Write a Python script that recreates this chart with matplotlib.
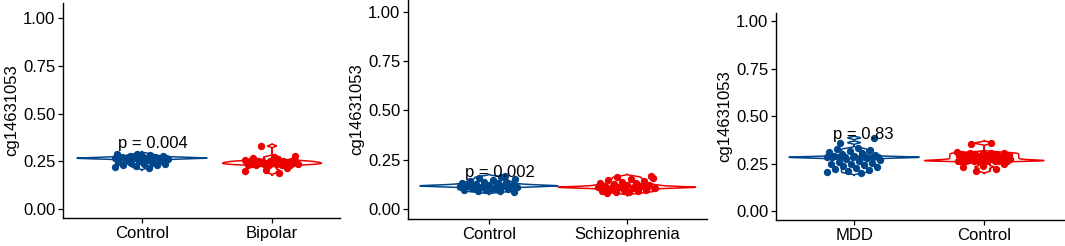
import numpy as np
import matplotlib.pyplot as plt
from matplotlib.ticker import FormatStrFormatter

plt.rcParams['font.family'] = ['Liberation Sans', 'DejaVu Sans']

BLUE = '#00468B'
RED = '#ED0000'

# --- valores (cg14631053) ---
bip_control = [0.266, 0.266, 0.266, 0.266, 0.266, 0.266, 0.266, 0.266, 0.266, 0.266,
               0.266, 0.266, 0.29, 0.286, 0.282, 0.279, 0.276, 0.275, 0.273, 0.271,
               0.269, 0.262, 0.259, 0.256, 0.253, 0.25, 0.247, 0.244, 0.241, 0.238,
               0.235, 0.232, 0.228, 0.224, 0.22, 0.215]
bip_bipolar = [0.256, 0.255, 0.254, 0.252, 0.251, 0.25, 0.249, 0.248, 0.247, 0.246,
               0.245, 0.244, 0.243, 0.242, 0.241, 0.24, 0.24, 0.239, 0.238, 0.237,
               0.236, 0.235, 0.234, 0.233, 0.232, 0.231, 0.23, 0.228, 0.33, 0.275,
               0.27, 0.265, 0.215, 0.205, 0.2, 0.19]

scz_control = [0.117, 0.117, 0.117, 0.117, 0.117, 0.117, 0.16, 0.155, 0.15, 0.146,
               0.142, 0.139, 0.136, 0.133, 0.13, 0.127, 0.124, 0.121, 0.119, 0.115,
               0.113, 0.11, 0.107, 0.104, 0.101, 0.098, 0.095, 0.092, 0.089, 0.086,
               0.1, 0.125, 0.165]
scz_scz = [0.11, 0.11, 0.11, 0.11, 0.11, 0.11, 0.11, 0.16, 0.155, 0.15,
           0.146, 0.142, 0.138, 0.134, 0.13, 0.127, 0.124, 0.121, 0.118, 0.115,
           0.113, 0.107, 0.104, 0.101, 0.098, 0.095, 0.092, 0.09, 0.087, 0.165,
           0.085, 0.08, 0.12]

mdd_mdd = [0.283, 0.283, 0.283, 0.283, 0.283, 0.283, 0.283, 0.283, 0.283, 0.33,
           0.325, 0.32, 0.315, 0.31, 0.305, 0.3, 0.296, 0.292, 0.288, 0.279,
           0.275, 0.27, 0.265, 0.26, 0.255, 0.25, 0.245, 0.24, 0.235, 0.23,
           0.225, 0.22, 0.215, 0.21, 0.205, 0.2, 0.36, 0.385]
mdd_control = [0.31, 0.308, 0.306, 0.305, 0.303, 0.301, 0.3, 0.298, 0.296, 0.295,
               0.293, 0.291, 0.29, 0.288, 0.286, 0.285, 0.283, 0.281, 0.28, 0.278,
               0.276, 0.275, 0.273, 0.271, 0.27, 0.268, 0.266, 0.265, 0.264, 0.263,
               0.262, 0.265, 0.265, 0.265, 0.265, 0.36, 0.355, 0.245, 0.235, 0.23,
               0.22, 0.21]

paneles = [
    # (datos, etiquetas, colores, p, rect en px [izq, der, arriba, abajo], ylim, xlim, pos p)
    ([bip_control, bip_bipolar], ['Control', 'Bipolar'], [BLUE, RED], 'p = 0.004',
     (63, 340, 3, 218), (-0.047, 1.0785), (0.392, 2.523), (0.815, 0.345)),
    ([scz_control, scz_scz], ['Control', 'Schizophrenia'], [BLUE, RED], 'p = 0.002',
     (408, 707, 0, 219), (-0.051, 1.061), (0.413, 2.58), (0.826, 0.183)),
    ([mdd_mdd, mdd_control], ['MDD', 'Control'], [BLUE, RED], 'p = 0.83',
     (776, 1065, 13, 220), (-0.047, 1.042), (0.4, 2.62), (0.838, 0.405)),
]

W, H = 1065, 246
BW = 0.004


def densidad(vals, bw):
    vals = np.asarray(vals)
    y = np.linspace(vals.min() - 3 * bw, vals.max() + 3 * bw, 400)
    d = np.exp(-0.5 * ((y[:, None] - vals[None, :]) / bw) ** 2).sum(axis=1)
    d /= len(vals) * bw * np.sqrt(2 * np.pi)
    return y, d


fig = plt.figure(figsize=(W / 100, H / 100), dpi=100)

for datos, etiquetas, colores, ptxt, (l, r, t, b), ylim, xlim, (px, py) in paneles:
    ax = fig.add_axes([l / W, 1 - b / H, (r - l) / W, (b - t) / H])
    dens = [densidad(v, BW) for v in datos]
    dmax = max(d.max() for _, d in dens)
    for i, ((y, d), vals, col) in enumerate(zip(dens, datos, colores)):
        pos = i + 1
        hw = 0.5 * d / dmax
        ax.plot(np.r_[pos + hw, (pos - hw)[::-1], pos + hw[0]],
                np.r_[y, y[::-1], y[0]], color=col, lw=1.1, zorder=2)
        n = len(vals)
        jit = ((np.arange(n) * 0.618034) % 1 - 0.5) * 0.42
        ax.scatter(pos + jit, vals, s=28, color=col, zorder=3, linewidths=0)
    ax.text(px, py, ptxt, fontsize=12, ha='left', va='center', zorder=4)
    ax.set_xlim(*xlim)
    ax.set_ylim(*ylim)
    ax.set_xticks([1, 2])
    ax.set_xticklabels(etiquetas)
    ax.set_yticks([0, 0.25, 0.5, 0.75, 1.0])
    ax.yaxis.set_major_formatter(FormatStrFormatter('%.2f'))
    ax.set_ylabel('cg14631053', fontsize=12, labelpad=3)
    ax.tick_params(labelsize=12, length=3.5, width=0.9, color='black', pad=2)
    for s in ['top', 'right']:
        ax.spines[s].set_visible(False)
    for s in ['left', 'bottom']:
        ax.spines[s].set_linewidth(1.0)

fig.savefig('out.png', dpi=100)
